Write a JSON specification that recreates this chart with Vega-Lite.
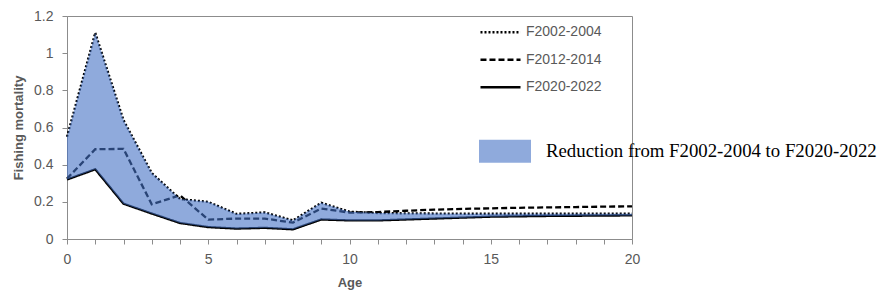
{
  "$schema": "https://vega.github.io/schema/vega-lite/v6.json",
  "width": 565,
  "height": 223,
  "autosize": "none",
  "padding": {"left": 67, "top": 16, "right": 246, "bottom": 54},
  "background": "white",
  "config": {
    "view": {"stroke": "#8c8c8c", "strokeWidth": 1},
    "axis": {
      "grid": false,
      "domainColor": "#8c8c8c",
      "tickColor": "#8c8c8c",
      "tickSize": 5,
      "labelFont": "Liberation Sans",
      "labelFontSize": 14,
      "labelColor": "#595959",
      "labelOverlap": false,
      "labelFlush": false,
      "titleFont": "Liberation Sans",
      "titleFontSize": 13,
      "titleFontWeight": "bold",
      "titleColor": "#595959"
    }
  },
  "data": {
    "values": [
      {"Age": 0, "F2002-2004": 0.55, "F2012-2014": 0.325, "F2020-2022": 0.32},
      {"Age": 1, "F2002-2004": 1.11, "F2012-2014": 0.483, "F2020-2022": 0.375},
      {"Age": 2, "F2002-2004": 0.64, "F2012-2014": 0.485, "F2020-2022": 0.19},
      {"Age": 3, "F2002-2004": 0.355, "F2012-2014": 0.187, "F2020-2022": 0.137},
      {"Age": 4, "F2002-2004": 0.215, "F2012-2014": 0.235, "F2020-2022": 0.086},
      {"Age": 5, "F2002-2004": 0.2, "F2012-2014": 0.104, "F2020-2022": 0.064},
      {"Age": 6, "F2002-2004": 0.135, "F2012-2014": 0.11, "F2020-2022": 0.056},
      {"Age": 7, "F2002-2004": 0.143, "F2012-2014": 0.11, "F2020-2022": 0.06},
      {"Age": 8, "F2002-2004": 0.1, "F2012-2014": 0.088, "F2020-2022": 0.052},
      {"Age": 9, "F2002-2004": 0.195, "F2012-2014": 0.164, "F2020-2022": 0.105},
      {"Age": 10, "F2002-2004": 0.147, "F2012-2014": 0.142, "F2020-2022": 0.1},
      {"Age": 11, "F2002-2004": 0.14, "F2012-2014": 0.145, "F2020-2022": 0.1},
      {"Age": 12, "F2002-2004": 0.138, "F2012-2014": 0.152, "F2020-2022": 0.105},
      {"Age": 13, "F2002-2004": 0.137, "F2012-2014": 0.158, "F2020-2022": 0.11},
      {"Age": 14, "F2002-2004": 0.136, "F2012-2014": 0.162, "F2020-2022": 0.115},
      {"Age": 15, "F2002-2004": 0.136, "F2012-2014": 0.165, "F2020-2022": 0.12},
      {"Age": 16, "F2002-2004": 0.136, "F2012-2014": 0.168, "F2020-2022": 0.122},
      {"Age": 17, "F2002-2004": 0.136, "F2012-2014": 0.17, "F2020-2022": 0.124},
      {"Age": 18, "F2002-2004": 0.136, "F2012-2014": 0.172, "F2020-2022": 0.125},
      {"Age": 19, "F2002-2004": 0.136, "F2012-2014": 0.174, "F2020-2022": 0.126},
      {"Age": 20, "F2002-2004": 0.136, "F2012-2014": 0.176, "F2020-2022": 0.127}
    ]
  },
  "encoding": {
    "x": {
      "field": "Age",
      "type": "quantitative",
      "title": "Age",
      "scale": {"domain": [0, 20], "nice": false, "zero": false},
      "axis": {
        "values": [0,1,2,3,4,5,6,7,8,9,10,11,12,13,14,15,16,17,18,19,20],
        "labelExpr": "datum.value % 5 === 0 ? datum.label : ''",
        "labelPadding": 8,
        "titlePadding": 10
      }
    }
  },
  "layer": [
    {
      "transform": [{"fold": ["F2002-2004", "F2012-2014", "F2020-2022"], "as": ["series", "F"]}],
      "mark": {"type": "line", "color": "black", "strokeWidth": 2.3},
      "encoding": {
        "y": {
          "field": "F",
          "type": "quantitative",
          "title": "Fishing mortality",
          "scale": {"domain": [0, 1.2], "nice": false},
          "axis": {"values": [0, 0.2, 0.4, 0.6, 0.8, 1, 1.2], "labelExpr": "datum.value === 0 ? '0' : datum.value === 1 ? '1' : format(datum.value, '.1f')", "labelPadding": 9, "titlePadding": 8}
        },
        "strokeDash": {
          "field": "series",
          "type": "nominal",
          "scale": {"domain": ["F2002-2004", "F2012-2014", "F2020-2022"], "range": [[2, 2], [6, 3], [1, 0]]},
          "legend": {
            "orient": "none",
            "legendX": 425.5,
            "legendY": 8.3,
            "title": null,
            "padding": 0,
            "symbolType": "M-3,0H3",
            "symbolSize": 178,
            "symbolStrokeWidth": 2.5,
            "symbolStrokeColor": "black",
            "labelFont": "Liberation Sans",
            "labelFontSize": 14,
            "labelColor": "#595959",
            "labelOffset": 17.5,
            "rowPadding": 12.5,
            "labelLimit": 200
          }
        }
      }
    },
    {
      "mark": {"type": "area", "opacity": 0.6},
      "encoding": {
        "y": {
          "field": "F2002-2004",
          "type": "quantitative",
          "title": "Fishing mortality",
          "axis": {"values": [0, 0.2, 0.4, 0.6, 0.8, 1, 1.2], "labelExpr": "datum.value === 0 ? '0' : datum.value === 1 ? '1' : format(datum.value, '.1f')", "labelPadding": 9, "titlePadding": 8}
        },
        "y2": {"field": "F2020-2022"},
        "fill": {
          "datum": "Reduction from F2002-2004 to F2020-2022",
          "scale": {"range": ["#4472C4"]},
          "legend": {
            "orient": "none",
            "legendX": 412,
            "legendY": 109.3,
            "title": null,
            "padding": 0,
            "symbolType": "M-1,-0.44H1V0.44H-1Z",
            "symbolSize": 2704,
            "symbolOpacity": 0.6,
            "symbolStrokeWidth": 0,
            "labelFont": "Liberation Serif",
            "labelFontSize": 18.8,
            "labelColor": "black",
            "labelOffset": 15,
            "labelLimit": 400
          }
        }
      }
    }
  ]
}
